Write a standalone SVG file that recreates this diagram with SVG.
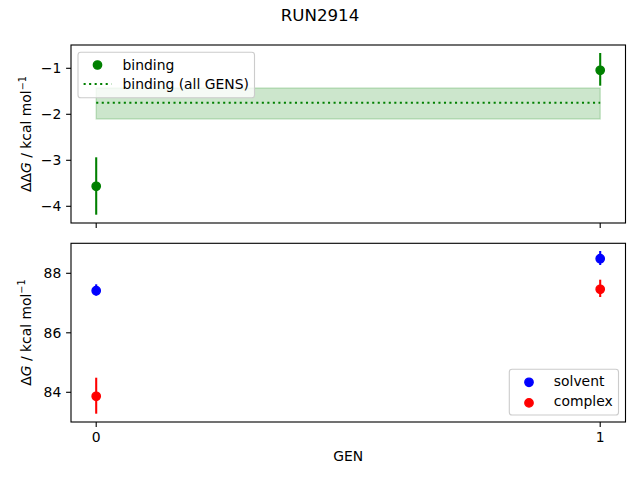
<svg xmlns="http://www.w3.org/2000/svg" width="640" height="480" viewBox="0 0 640 480">
<style>
text{font-family:"DejaVu Sans",sans-serif;font-size:13.9px;fill:#000}
.title{font-size:16.67px}
.ax{fill:none;stroke:#000;stroke-width:1.11;stroke-linecap:square}
.tick{stroke:#000;stroke-width:1.11}
.eg{stroke:#008000;stroke-width:2.08}
.eb{stroke:#0000ff;stroke-width:2.08}
.er{stroke:#ff0000;stroke-width:2.08}
.mg{fill:#008000;stroke:#008000;stroke-width:1.39}
.mb{fill:#0000ff;stroke:#0000ff;stroke-width:1.39}
.mr{fill:#ff0000;stroke:#ff0000;stroke-width:1.39}
.dot{stroke:#008000;stroke-width:2.08;stroke-dasharray:2.08 3.44;fill:none}
.leg{fill:#fff;fill-opacity:0.8;stroke:#cccccc;stroke-width:1.11}
.sup{font-size:9.7px}
</style>
<rect width="640" height="480" fill="#fff"/>
<text class="title" x="320" y="21" text-anchor="middle">RUN2914</text>

<g id="top-axes">
  <rect x="96.2" y="88" width="504" height="31" fill="#008000" fill-opacity="0.2" stroke="#008000" stroke-opacity="0.2" stroke-width="1.39"/>
  <line class="dot" x1="96.2" y1="102.7" x2="600.2" y2="102.7"/>
  <line class="eg" x1="96.2" y1="157.3" x2="96.2" y2="214.7"/>
  <line class="eg" x1="600.2" y1="53" x2="600.2" y2="85.7"/>
  <circle class="mg" cx="96.2" cy="186.3" r="4.17"/>
  <circle class="mg" cx="600.2" cy="70.3" r="4.17"/>
  <rect class="ax" x="71" y="45" width="554.5" height="178"/>
  <g class="tick">
    <line x1="71" y1="68.3" x2="66.1" y2="68.3"/>
    <line x1="71" y1="114.3" x2="66.1" y2="114.3"/>
    <line x1="71" y1="160.3" x2="66.1" y2="160.3"/>
    <line x1="71" y1="206.3" x2="66.1" y2="206.3"/>
    <line x1="96.2" y1="223" x2="96.2" y2="227.9"/>
    <line x1="600.2" y1="223" x2="600.2" y2="227.9"/>
  </g>
  <text x="61.3" y="73.3" text-anchor="end">−1</text>
  <text x="61.3" y="119.3" text-anchor="end">−2</text>
  <text x="61.3" y="165.3" text-anchor="end">−3</text>
  <text x="61.3" y="211.3" text-anchor="end">−4</text>
  <text transform="rotate(-90 31 134)" x="31" y="134" text-anchor="middle">ΔΔ<tspan font-style="italic">G</tspan> / kcal mol<tspan class="sup" dy="-5.5">−1</tspan></text>
  <g id="legend-top">
    <rect class="leg" x="78" y="52.3" width="176.5" height="45.5" rx="2.8"/>
    <circle class="mg" cx="97.5" cy="65" r="4.17"/>
    <text x="122.5" y="69.6">binding</text>
    <line class="dot" x1="83.6" y1="84" x2="111.4" y2="84"/>
    <text x="122.5" y="88.9">binding (all GENS)</text>
  </g>
</g>

<g id="bottom-axes">
  <line class="eb" x1="96.2" y1="284.3" x2="96.2" y2="295.7"/>
  <line class="eb" x1="600.2" y1="251" x2="600.2" y2="265"/>
  <circle class="mb" cx="96.2" cy="290.7" r="4.17"/>
  <circle class="mb" cx="600.2" cy="258.7" r="4.17"/>
  <line class="er" x1="96.2" y1="377.7" x2="96.2" y2="413.7"/>
  <line class="er" x1="600.2" y1="279.7" x2="600.2" y2="297"/>
  <circle class="mr" cx="96.2" cy="396.3" r="4.17"/>
  <circle class="mr" cx="600.2" cy="289.3" r="4.17"/>
  <rect class="ax" x="71" y="243.3" width="554.5" height="178.7"/>
  <g class="tick">
    <line x1="71" y1="273.3" x2="66.1" y2="273.3"/>
    <line x1="71" y1="332.8" x2="66.1" y2="332.8"/>
    <line x1="71" y1="392.3" x2="66.1" y2="392.3"/>
    <line x1="96.2" y1="422" x2="96.2" y2="426.9"/>
    <line x1="600.2" y1="422" x2="600.2" y2="426.9"/>
  </g>
  <text x="61.3" y="278.3" text-anchor="end">88</text>
  <text x="61.3" y="337.8" text-anchor="end">86</text>
  <text x="61.3" y="397.3" text-anchor="end">84</text>
  <text x="96.2" y="442" text-anchor="middle">0</text>
  <text x="600.2" y="442" text-anchor="middle">1</text>
  <text x="348.3" y="461" text-anchor="middle">GEN</text>
  <text transform="rotate(-90 31 332.6)" x="31" y="332.6" text-anchor="middle">Δ<tspan font-style="italic">G</tspan> / kcal mol<tspan class="sup" dy="-5.5">−1</tspan></text>
  <g id="legend-bottom">
    <rect class="leg" x="509.3" y="369.3" width="109.2" height="45.7" rx="2.8"/>
    <circle class="mb" cx="529" cy="382.3" r="4.17"/>
    <text x="553.8" y="386.3">solvent</text>
    <circle class="mr" cx="529" cy="402.9" r="4.17"/>
    <text x="553.8" y="406.3">complex</text>
  </g>
</g>
</svg>
